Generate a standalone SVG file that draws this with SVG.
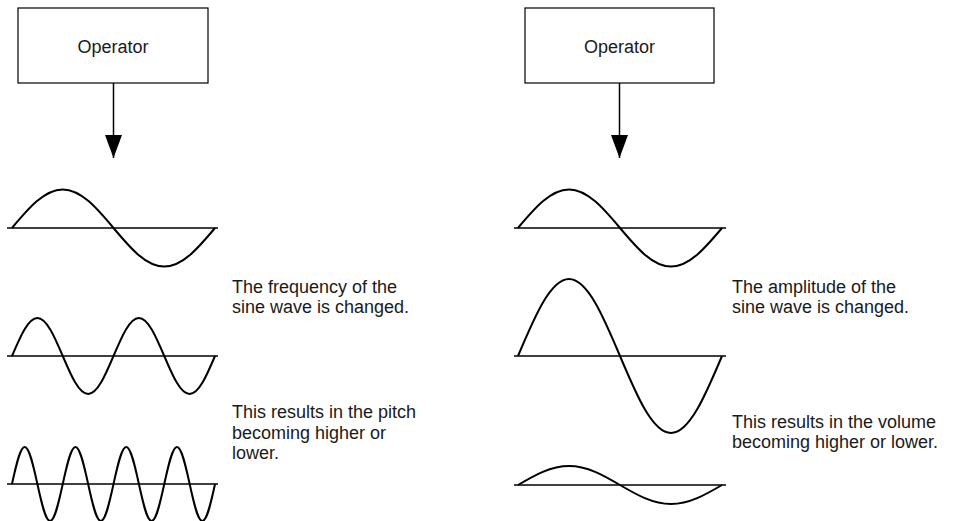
<svg xmlns="http://www.w3.org/2000/svg" width="955" height="521" viewBox="0 0 955 521">
<defs>
<style>
.box{fill:#fff;stroke:#000;stroke-width:1.2}
.lbl{font-family:"Liberation Sans",Arial,sans-serif;font-size:18px;fill:#1a1a1a}
.conn{stroke:#000;stroke-width:1.5;fill:none}
.axis{stroke:#000;stroke-width:1.5;fill:none}
.wave{stroke:#000;stroke-width:2;fill:none;stroke-linejoin:round}
</style>
<marker id="arr" markerUnits="userSpaceOnUse" markerWidth="23" markerHeight="17" refX="23" refY="8.5" orient="auto" viewBox="0 0 23 17">
<path d="M0,0 L23,8.5 L0,17 z" fill="#000"/>
</marker>
</defs>
<rect width="955" height="521" fill="#fff"/>
<g id="op-left">
<rect class="box" x="18" y="8" width="190" height="75"/>
<text class="lbl" x="113" y="53" text-anchor="middle">Operator</text>
</g>
<g id="op-right">
<rect class="box" x="525" y="8" width="189" height="75"/>
<text class="lbl" x="619.5" y="53" text-anchor="middle">Operator</text>
</g>
<g id="connectors">
<line class="conn" x1="113.5" y1="83" x2="113.5" y2="158" marker-end="url(#arr)"/>
<line class="conn" x1="619.5" y1="83" x2="619.5" y2="158" marker-end="url(#arr)"/>
</g>
<g id="wave-left-1">
<line class="axis" x1="7" y1="228" x2="218" y2="228"/>
<path class="wave" d="M12,228 c16.55,-19.72 32.38,-38.5 50.75,-38.5 c18.37,0 34.2,18.78 50.75,38.5 c16.55,19.72 32.38,38.5 50.75,38.5 c18.37,0 34.2,-18.78 50.75,-38.5"/>
</g>
<g id="wave-left-2">
<line class="axis" x1="7" y1="356" x2="218" y2="356"/>
<path class="wave" d="M12,356 c8.27,-19.47 16.19,-38 25.375,-38 c9.18,0 17.1,18.53 25.375,38 c8.27,19.47 16.19,38 25.375,38 c9.18,0 17.1,-18.53 25.375,-38 c8.27,-19.47 16.19,-38 25.375,-38 c9.18,0 17.1,18.53 25.375,38 c8.27,19.47 16.19,38 25.375,38 c9.18,0 17.1,-18.53 25.375,-38"/>
</g>
<g id="wave-left-3">
<line class="axis" x1="7" y1="484" x2="218" y2="484"/>
<path class="wave" d="M12,484 c4.14,-18.96 8.1,-37 12.69,-37 c4.59,0 8.55,18.04 12.69,37 c4.14,18.96 8.1,37 12.69,37 c4.59,0 8.55,-18.04 12.69,-37 c4.14,-18.96 8.1,-37 12.69,-37 c4.59,0 8.55,18.04 12.69,37 c4.14,18.96 8.1,37 12.69,37 c4.59,0 8.55,-18.04 12.69,-37 c4.14,-18.96 8.1,-37 12.69,-37 c4.59,0 8.55,18.04 12.69,37 c4.14,18.96 8.1,37 12.69,37 c4.59,0 8.55,-18.04 12.69,-37 c4.14,-18.96 8.1,-37 12.69,-37 c4.59,0 8.55,18.04 12.69,37 c4.14,18.96 8.1,37 12.69,37 c4.59,0 8.55,-18.04 12.69,-37"/>
</g>
<g id="wave-right-1">
<line class="axis" x1="514" y1="228" x2="726" y2="228"/>
<path class="wave" d="M518,228 c16.63,-19.72 32.54,-38.5 51,-38.5 c18.46,0 34.37,18.78 51,38.5 c16.63,19.72 32.54,38.5 51,38.5 c18.46,0 34.37,-18.78 51,-38.5"/>
</g>
<g id="wave-right-2">
<line class="axis" x1="514" y1="356" x2="726" y2="356"/>
<path class="wave" d="M518,356 c16.63,-39.45 32.54,-77 51,-77 c18.46,0 34.37,37.55 51,77 c16.63,39.45 32.54,77 51,77 c18.46,0 34.37,-37.55 51,-77"/>
</g>
<g id="wave-right-3">
<line class="axis" x1="514" y1="485" x2="726" y2="485"/>
<path class="wave" d="M518,485 c16.63,-9.73 32.54,-19 51,-19 c18.46,0 34.37,9.27 51,19 c16.63,9.73 32.54,19 51,19 c18.46,0 34.37,-9.27 51,-19"/>
</g>
<g id="text-left">
<text class="lbl" x="232" y="293">The frequency of the</text>
<text class="lbl" x="232" y="313">sine wave is changed.</text>
<text class="lbl" x="232" y="418">This results in the pitch</text>
<text class="lbl" x="232" y="438.5">becoming higher or</text>
<text class="lbl" x="232" y="459">lower.</text>
</g>
<g id="text-right">
<text class="lbl" x="732" y="293">The amplitude of the</text>
<text class="lbl" x="732" y="313">sine wave is changed.</text>
<text class="lbl" x="732" y="428">This results in the volume</text>
<text class="lbl" x="732" y="448">becoming higher or lower.</text>
</g>
</svg>
